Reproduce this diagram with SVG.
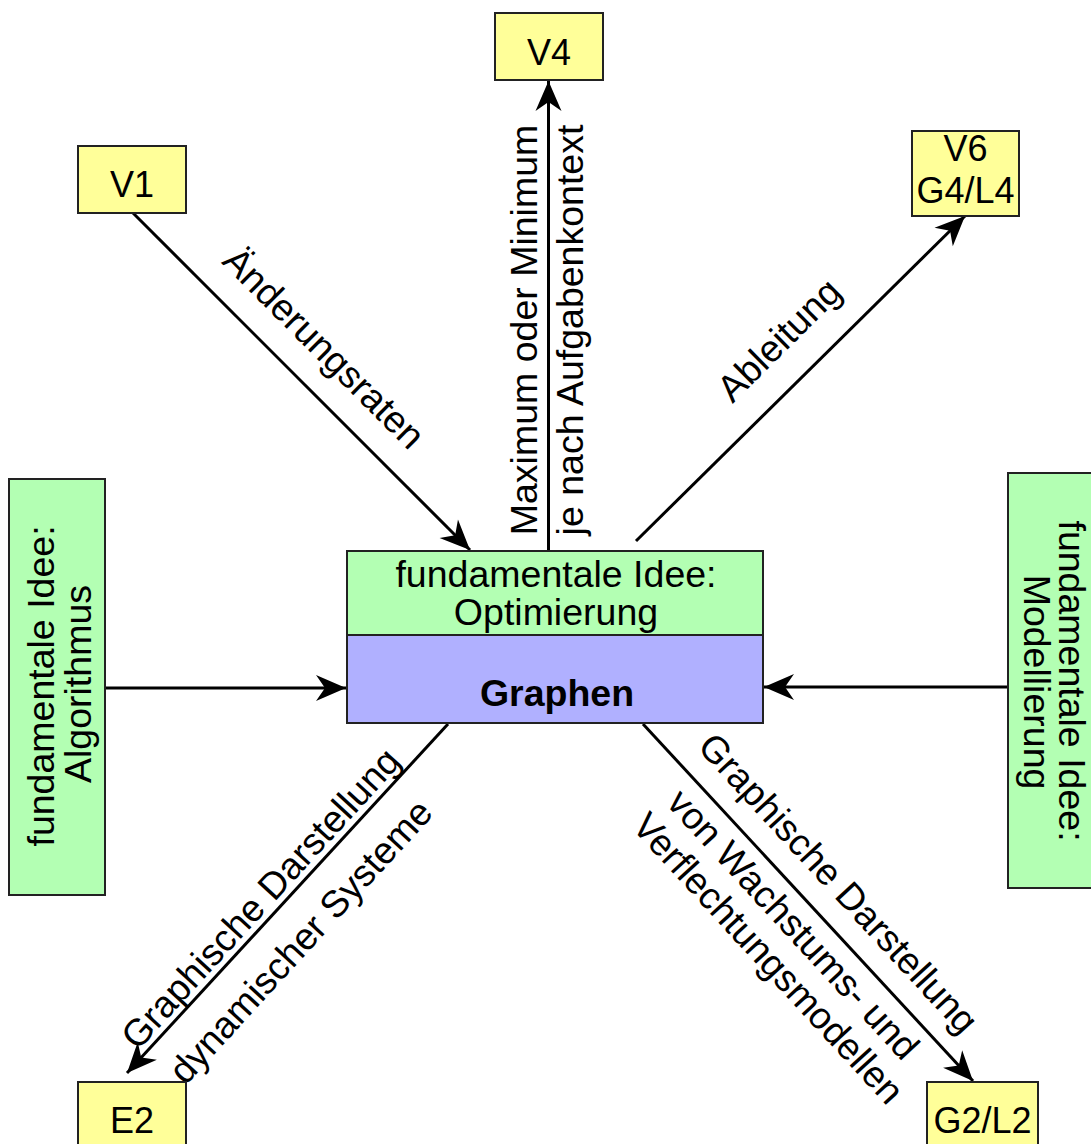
<svg xmlns="http://www.w3.org/2000/svg" width="1091" height="1144" viewBox="0 0 1091 1144">
  <style>
    text { font-family: "Liberation Sans", Arial, sans-serif; font-size: 37.5px; fill: #000; }
    .mid { text-anchor: middle; }
    .tag { font-size: 36px; }
    .yellow { fill: #ffff99; stroke: #222; stroke-width: 2; }
    .green { fill: #b3ffb3; stroke: #222; stroke-width: 2; }
    .blue { fill: #b0b0ff; stroke: #222; stroke-width: 2; }
    .conn { stroke: #000; stroke-width: 3; fill: none; }
    .arrow { marker-end: url(#head); }
  </style>
  <defs>
    <marker id="head" markerUnits="userSpaceOnUse" viewBox="-32 -15 34 30" markerWidth="34" markerHeight="30" refX="0" refY="0" orient="auto">
      <path d="M0,0 L-30,-13 L-21,0 L-30,13 Z" fill="#000"/>
    </marker>
  </defs>

  <rect width="1091" height="1144" fill="#fff"/>

  <!-- connectors -->
  <g id="connectors">
    <line class="conn arrow" x1="548.5" y1="550" x2="548.5" y2="81"/>
    <line class="conn arrow" x1="133" y1="213" x2="470" y2="550"/>
    <line class="conn arrow" x1="636" y1="541" x2="965" y2="216"/>
    <line class="conn arrow" x1="106" y1="688" x2="346" y2="688"/>
    <line class="conn arrow" x1="1008" y1="687" x2="764" y2="687"/>
    <line class="conn arrow" x1="448" y1="724" x2="127" y2="1073"/>
    <line class="conn arrow" x1="643" y1="724" x2="973" y2="1081"/>

    <!-- connector labels -->
    <text class="mid" transform="translate(315,357) rotate(45)">Änderungsraten</text>
    <text class="mid" transform="translate(537,330) rotate(-90)">Maximum oder Minimum</text>
    <text class="mid" transform="translate(583,330) rotate(-90)">je nach Aufgabenkontext</text>
    <text class="mid" transform="translate(788,349) rotate(-44.7)">Ableitung</text>
    <text class="mid" transform="translate(270,907) rotate(-47.5)">Graphische Darstellung</text>
    <text class="mid" transform="translate(310,950) rotate(-47.5)">dynamischer Systeme</text>
    <text class="mid" transform="translate(829,892) rotate(47.4)">Graphische Darstellung</text>
    <text class="mid" transform="translate(784,933) rotate(47.4)">von Wachstums- und</text>
    <text class="mid" transform="translate(759,967) rotate(47.4)">Verflechtungsmodellen</text>
  </g>

  <!-- nodes -->
  <g id="node-v4">
    <rect class="yellow" x="495" y="13" width="108" height="67"/>
    <text class="mid tag" x="549" y="65">V4</text>
  </g>
  <g id="node-v1">
    <rect class="yellow" x="78" y="146" width="108" height="67"/>
    <text class="mid tag" x="132" y="197">V1</text>
  </g>
  <g id="node-v6">
    <rect class="yellow" x="912" y="131" width="107" height="85"/>
    <text class="mid tag" x="965.5" y="161">V6</text>
    <text class="mid tag" x="965.5" y="203">G4/L4</text>
  </g>
  <g id="node-optimierung">
    <rect class="green" x="347" y="551" width="416" height="84"/>
    <text class="mid" x="556" y="587">fundamentale Idee:</text>
    <text class="mid" x="556" y="625">Optimierung</text>
  </g>
  <g id="node-graphen">
    <rect class="blue" x="347" y="635" width="416" height="88"/>
    <text class="mid" x="557" y="706" font-weight="bold" font-size="42">Graphen</text>
  </g>
  <g id="node-algorithmus">
    <rect class="green" x="9" y="479" width="96" height="416"/>
    <text class="mid" transform="translate(54,686) rotate(-90)">fundamentale Idee:</text>
    <text class="mid" transform="translate(91,684) rotate(-90)">Algorithmus</text>
  </g>
  <g id="node-modellierung">
    <rect class="green" x="1008" y="473" width="100" height="415"/>
    <text class="mid" transform="translate(1059,681) rotate(90)">fundamentale Idee:</text>
    <text class="mid" transform="translate(1024,682) rotate(90)">Modellierung</text>
  </g>
  <g id="node-e2">
    <rect class="yellow" x="78" y="1082" width="108" height="67"/>
    <text class="mid tag" x="132" y="1133">E2</text>
  </g>
  <g id="node-g2l2">
    <rect class="yellow" x="927" y="1082" width="111" height="67"/>
    <text class="mid tag" x="982.5" y="1133">G2/L2</text>
  </g>
</svg>
